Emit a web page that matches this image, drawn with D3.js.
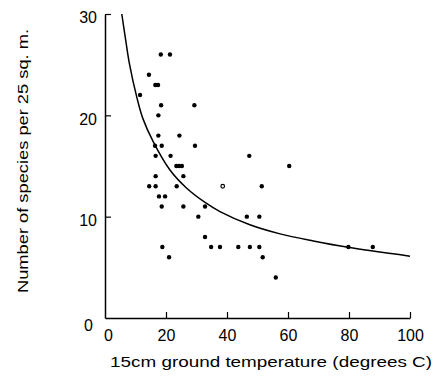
<!DOCTYPE html>
<html>
<head>
<meta charset="utf-8">
<script src="https://cdn.jsdelivr.net/npm/d3@7/dist/d3.min.js"></script>
<style>
  body { margin: 0; background: #fff; }
  svg { display: block; }
  text { font-family: "Liberation Sans", Arial, sans-serif; fill: #000; }
</style>
</head>
<body>
<div id="chart"></div>
<script>
// scatter points: temperature (x) and species count (y)
const tempValues = [
  18.3, 21.3, 14.4, 16.5, 17.4, 11.5, 18.4, 29.3, 17.5,
  17.5, 24.4, 16.4, 18.6, 29.5, 16.6, 21.5, 23.4, 24.3, 25.2,
  16.6, 25.7, 14.5, 16.6, 23.5, 17.7, 19.7, 18.6, 25.7, 32.8,
  30.6, 32.8, 18.8, 21.0, 34.8, 37.7, 47.3, 60.4, 38.6, 51.4,
  46.5, 50.6, 43.7, 47.5, 50.6, 51.7, 56.0, 79.8, 87.8
];
const speciesValues = [
  26, 26, 24, 23, 23, 22, 21, 21, 20,
  18, 18, 17, 17, 17, 16, 16, 15, 15, 15,
  14, 14, 13, 13, 13, 12, 12, 11, 11, 11,
  10, 8, 7, 6, 7, 7, 16, 15, 13, 13,
  10, 10, 7, 7, 7, 6, 4, 7, 7
];
const hollowPoints = [37];

// fitted curve
const curveX = [5.5, 6.6, 8, 10.5, 12.4, 15.8, 21.3, 26.8, 32.8, 37.7, 47.5, 57.4, 68.3, 79.2, 100];
const curveY = [30.0, 27.8, 25.1, 21.7, 19.7, 17.4, 14.6, 12.8, 11.4, 10.5, 9.2, 8.3, 7.6, 7.0, 6.1];

const xTicks = [0, 20, 40, 60, 80, 100];
const yTicks = [0, 10, 20, 30];

const width = 438, height = 376;

const svg = d3.select("#chart").append("svg")
  .attr("width", width)
  .attr("height", height);

const x = d3.scaleLinear().domain([0, 100]).range([105, 410]);
const y = d3.scaleLinear().domain([0, 30]).range([318, 14]);

// x axis, ticks pointing up into the plot
const xAxis = svg.append("g")
  .attr("transform", "translate(0," + y(0) + ")")
  .call(d3.axisBottom(x).tickValues(xTicks).tickSizeInner(-6).tickSizeOuter(0).tickPadding(12));
xAxis.select(".domain").attr("stroke-width", 1.5);
xAxis.selectAll(".tick line").attr("stroke-width", 1.2);
xAxis.selectAll(".tick text").attr("font-size", 16).attr("font-family", null);
xAxis.selectAll(".tick").filter(d => d === 0).select("line").remove();
xAxis.selectAll(".tick").filter(d => d === 0).select("text").attr("dx", 3);

// y axis, ticks pointing right
const yAxis = svg.append("g")
  .attr("transform", "translate(" + x(0) + ",0)")
  .call(d3.axisLeft(y).tickValues(yTicks).tickSizeInner(-6).tickSizeOuter(0).tickPadding(8));
yAxis.select(".domain").attr("stroke-width", 1.5);
yAxis.selectAll(".tick line").attr("stroke-width", 1.2);
yAxis.selectAll(".tick text").attr("font-size", 16).attr("font-family", null).attr("dy", "0.55em");
yAxis.selectAll(".tick").filter(d => d === 0).select("line").remove();
yAxis.selectAll(".tick").filter(d => d === 0).select("text").attr("dx", -4).attr("dy", "0.75em");

// curve
const curvePts = curveX.map((v, i) => [v, curveY[i]]);
svg.append("path")
  .datum(curvePts)
  .attr("fill", "none")
  .attr("stroke", "#000")
  .attr("stroke-width", 1.5)
  .attr("d", d3.line().x(d => x(d[0])).y(d => y(d[1])).curve(d3.curveCatmullRom));

// points
const pts = tempValues.map((v, i) => ({ t: v, s: speciesValues[i], hollow: hollowPoints.includes(i) }));
svg.append("g").selectAll("circle")
  .data(pts)
  .enter().append("circle")
  .attr("cx", d => x(d.t))
  .attr("cy", d => y(d.s))
  .attr("r", d => d.hollow ? 1.8 : 2.2)
  .attr("fill", d => d.hollow ? "#fff" : "#000")
  .attr("stroke", "#000")
  .attr("stroke-width", d => d.hollow ? 1.2 : 0);

// axis titles
svg.append("text")
  .attr("x", 110)
  .attr("y", 367)
  .attr("font-size", 15)
  .attr("textLength", 322)
  .attr("lengthAdjust", "spacingAndGlyphs")
  .text("15cm ground temperature (degrees C)");

svg.append("text")
  .attr("transform", "translate(28,293) rotate(-90)")
  .attr("font-size", 15)
  .attr("textLength", 264)
  .attr("lengthAdjust", "spacingAndGlyphs")
  .text("Number of species  per 25 sq. m.");
</script>
</body>
</html>
